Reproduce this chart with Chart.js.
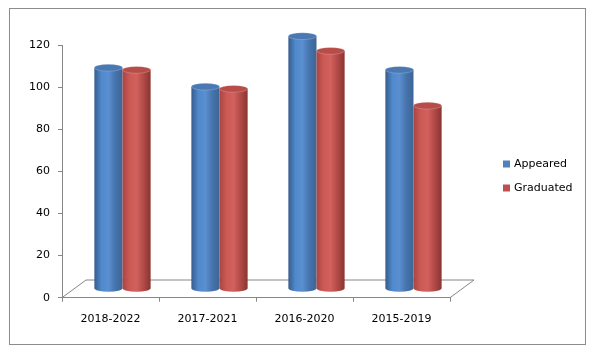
<!DOCTYPE html>
<html>
<head>
<meta charset="utf-8">
<script src="https://cdn.jsdelivr.net/npm/chart.js@4/dist/chart.umd.min.js"></script>
<style>
  html, body { margin: 0; padding: 0; background: #fff; }
  #wrap { width: 595px; height: 353px; }
</style>
</head>
<body>
<div id="wrap"><canvas id="batchChart" width="595" height="353"></canvas></div>
<script>
// chart values
const batches = ["2018-2022", "2017-2021", "2016-2020", "2015-2019"];
const appeared = [105, 96, 120, 104];
const graduated = [104, 95, 113, 87];
const yTicks = [0, 20, 40, 60, 80, 100, 120];

const FONT = "DejaVu Sans";
const AXIS_GREY = "#868686";
const DEPTH_X = 24, DEPTH_Y = 17.7;   // floor depth

// colour stops for the cylinder shading
const shades = {
    Appeared: { stops: ["#375c8c", "#5089cc", "#5a8fd0", "#4673ab", "#3d6597"], cap: "#4a78b3", key: "#4f81bd" },
    Graduated: { stops: ["#a84542", "#cc5955", "#d2605c", "#b04a47", "#8a3431"], cap: "#b84c49", key: "#c0504d" },
};

// outer frame + floor of the 3d plot
const framePlugin = {
    id: "frame",
    beforeDraw(chart) {
        const ctx = chart.ctx;
        ctx.save();
        ctx.fillStyle = "#fff";
        ctx.fillRect(0, 0, chart.width, chart.height);
        ctx.strokeStyle = "#8c8c8c";
        ctx.lineWidth = 1;
        ctx.strokeRect(9.5, 8.5, 576, 336);
        ctx.restore();
    },
    beforeDatasetsDraw(chart) {
        const { ctx, chartArea: a } = chart;
        ctx.save();
        ctx.strokeStyle = AXIS_GREY;
        ctx.lineWidth = 1;
        ctx.beginPath();
        ctx.moveTo(a.left, a.bottom);
        ctx.lineTo(a.left + DEPTH_X, a.bottom - DEPTH_Y);
        ctx.lineTo(a.right + DEPTH_X, a.bottom - DEPTH_Y);
        ctx.lineTo(a.right, a.bottom);
        ctx.stroke();
        ctx.restore();
    },
};

// draw each bar element as a cylinder, set back half the floor depth
const cylinderPlugin = {
    id: "cylinders",
    beforeDatasetsDraw(chart) {
        const ctx = chart.ctx;
        const dx = DEPTH_X / 2, dy = -DEPTH_Y / 2;
        const metas = chart.data.datasets.map((d, i) => chart.getDatasetMeta(i));
        for (let j = 0; j < chart.data.labels.length; j++) {
            metas.forEach((meta, i) => {
                const bar = meta.data[j];
                if (!bar) return;
                const { x, y, base, width } = bar.getProps(["x", "y", "base", "width"], true);
                const s = shades[chart.data.datasets[i].label];
                const cx = x + dx, top = y + dy, bot = base + dy;
                const rx = width / 2, ry = 3.4;

                const g = ctx.createLinearGradient(cx - rx, 0, cx + rx, 0);
                s.stops.forEach((c, k) => g.addColorStop(k / (s.stops.length - 1), c));

                ctx.save();
                ctx.beginPath();
                ctx.moveTo(cx - rx, top);
                ctx.lineTo(cx - rx, bot);
                ctx.ellipse(cx, bot, rx, ry, 0, Math.PI, 0, true);
                ctx.lineTo(cx + rx, top);
                ctx.closePath();
                ctx.fillStyle = g;
                ctx.fill();

                ctx.beginPath();
                ctx.ellipse(cx, top, rx, ry, 0, 0, Math.PI * 2);
                ctx.fillStyle = s.cap;
                ctx.fill();
                ctx.strokeStyle = "rgba(255,255,255,0.25)";
                ctx.lineWidth = 0.8;
                ctx.stroke();
                ctx.restore();
            });
        }
        return false;
    },
};

// legend on the right
const legendPlugin = {
    id: "sideLegend",
    afterDraw(chart) {
        const ctx = chart.ctx;
        ctx.save();
        ctx.font = "11px '" + FONT + "'";
        ctx.textBaseline = "middle";
        ctx.fillStyle = "#000";
        chart.data.datasets.forEach((ds, i) => {
            const yc = 164 + i * 24;
            ctx.fillStyle = shades[ds.label].key;
            ctx.fillRect(503, yc - 3.5, 7, 7);
            ctx.fillStyle = "#000";
            ctx.fillText(ds.label, 514, yc);
        });
        ctx.restore();
    },
};

const ctx = document.getElementById("batchChart").getContext("2d");
new Chart(ctx, {
    type: "bar",
    data: {
        labels: batches,
        datasets: [
            { label: "Appeared", data: appeared, backgroundColor: shades.Appeared.key },
            { label: "Graduated", data: graduated, backgroundColor: shades.Graduated.key },
        ],
    },
    options: {
        responsive: false,
        animation: false,
        events: [],
        layout: { padding: { top: 45, right: 145, bottom: 0, left: 0 } },
        categoryPercentage: 0.58,
        barPercentage: 1,
        plugins: {
            legend: { display: false },
            tooltip: { enabled: false },
        },
        scales: {
            x: {
                grid: { display: true, drawOnChartArea: false, drawTicks: true, tickLength: 4, color: AXIS_GREY, offset: true },
                border: { display: true, color: AXIS_GREY },
                ticks: { color: "#000", font: { family: FONT, size: 11 }, padding: 11, maxRotation: 0 },
                afterFit(scale) { scale.height = 55.3; },
            },
            y: {
                min: 0,
                max: 120,
                afterBuildTicks(scale) { scale.ticks = yTicks.map(v => ({ value: v })); },
                grid: { display: true, drawOnChartArea: false, drawTicks: true, tickLength: 4, color: AXIS_GREY },
                border: { display: true, color: AXIS_GREY },
                ticks: { color: "#000", font: { family: FONT, size: 11 }, padding: 8 },
                afterFit(scale) { scale.width = 62; },
            },
        },
    },
    plugins: [framePlugin, cylinderPlugin, legendPlugin],
});
</script>
</body>
</html>
